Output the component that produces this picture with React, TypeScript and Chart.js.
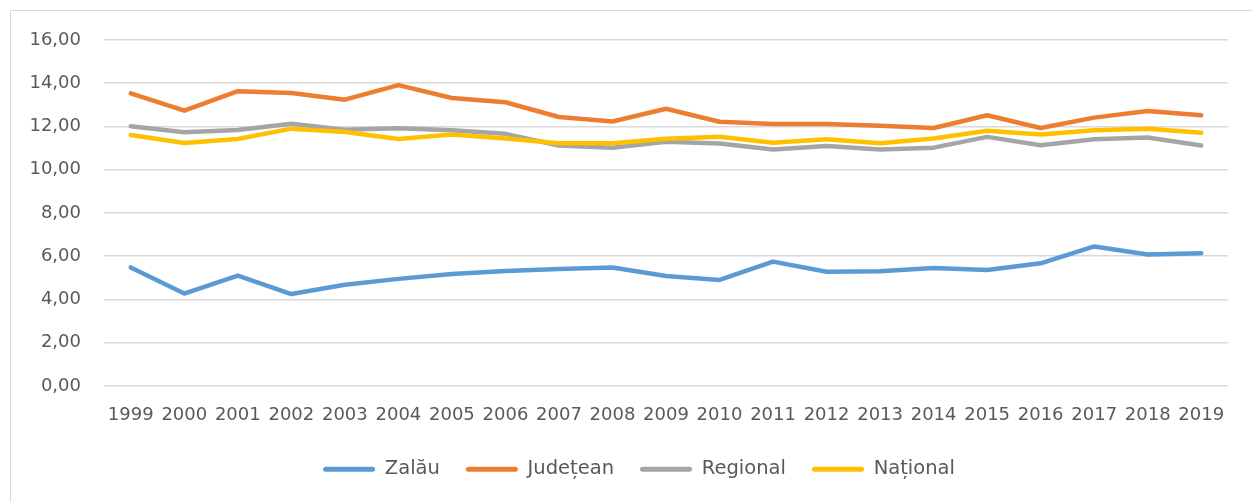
import React, { useEffect, useRef } from "react";
import { Chart, registerables } from "chart.js";

Chart.register(...registerables);

const years = ["1999","2000","2001","2002","2003","2004","2005","2006","2007","2008","2009","2010","2011","2012","2013","2014","2015","2016","2017","2018","2019"];
const zalau = [5.48, 4.27, 5.10, 4.25, 4.68, 4.95, 5.18, 5.32, 5.41, 5.48, 5.08, 4.90, 5.75, 5.28, 5.30, 5.45, 5.36, 5.67, 6.45, 6.08, 6.14];
const judetean = [13.53, 12.73, 13.63, 13.55, 13.24, 13.91, 13.32, 13.12, 12.44, 12.23, 12.82, 12.22, 12.12, 12.12, 12.03, 11.93, 12.52, 11.93, 12.41, 12.72, 12.52];
const regional = [12.01, 11.73, 11.84, 12.13, 11.85, 11.92, 11.82, 11.66, 11.12, 11.02, 11.29, 11.21, 10.93, 11.10, 10.93, 11.02, 11.52, 11.13, 11.41, 11.49, 11.12];
const national = [11.61, 11.24, 11.42, 11.90, 11.74, 11.42, 11.63, 11.44, 11.22, 11.22, 11.43, 11.52, 11.25, 11.41, 11.22, 11.44, 11.80, 11.63, 11.83, 11.90, 11.71];
const seriesNames = ["Zalău", "Județean", "Regional", "Național"];
const seriesColors = ["#5B9BD5", "#ED7D31", "#A5A5A5", "#FFC000"];
const yTickLabels = ["0,00", "2,00", "4,00", "6,00", "8,00", "10,00", "12,00", "14,00", "16,00"];

const FONT = "'DejaVu Sans', sans-serif";
const TEXT = "#595959";

const shiftLegend = {
  id: "shiftLegend",
  afterLayout(c: any) {
    if (c.legend) {
      c.legend.left += 15;
      c.legend.right += 15;
    }
  },
};

export default function App() {
  const ref = useRef<HTMLCanvasElement | null>(null);
  useEffect(() => {
    if (!ref.current) return;
    const values = [zalau, judetean, regional, national];
    const datasets = values
      .map((d, i) => ({
        label: seriesNames[i],
        data: d,
        borderColor: seriesColors[i],
        backgroundColor: seriesColors[i],
        borderWidth: 4.5,
        pointRadius: 0,
        pointHoverRadius: 0,
        tension: 0,
        borderCapStyle: "round" as const,
        borderJoinStyle: "round" as const,
        fill: false,
      }))
      .reverse();
    const chart = new Chart(ref.current, {
      type: "line",
      data: { labels: years, datasets },
      plugins: [shiftLegend],
      options: {
        animation: false,
        responsive: false,
        maintainAspectRatio: false,
        layout: { padding: { left: 20, right: 24, top: 40, bottom: 13 } },
        plugins: {
          tooltip: { enabled: false },
          legend: {
            position: "bottom",
            reverse: true,
            labels: {
              boxWidth: 52,
              boxHeight: 5,
              useBorderRadius: true,
              borderRadius: 2.5,
              padding: 26,
              color: TEXT,
              font: { family: FONT, size: 19.5 },
              generateLabels: (c: any) => {
                const items = Chart.defaults.plugins.legend.labels.generateLabels(c);
                return items.map((it: any) => ({ ...it, lineWidth: 0, fillStyle: it.strokeStyle }));
              },
            },
          },
        },
        scales: {
          x: {
            offset: true,
            afterFit: (s: any) => { s.height = s.height - 12; },
            grid: { display: false, drawTicks: false },
            border: { display: false },
            ticks: { color: TEXT, font: { family: FONT, size: 18 }, padding: 19, maxRotation: 0, autoSkip: false },
          },
          y: {
            min: 0,
            max: 16,
            afterFit: (s: any) => { s.width = 84; },
            grid: { color: "#d9d9d9", lineWidth: 1.5, drawTicks: false },
            border: { display: false },
            ticks: {
              stepSize: 2,
              color: TEXT,
              padding: 23,
              font: { family: FONT, size: 18 },
              callback: (v: any) => yTickLabels[Math.round(Number(v) / 2)],
            },
          },
        },
      },
    });
    return () => chart.destroy();
  }, []);
  return (
    <div style={{ position: "fixed", left: 0, top: 0, width: 1252, height: 502, background: "#fff", overflow: "hidden" }}>
      <div style={{ position: "absolute", left: 10, top: 10, width: 1300, height: 600, border: "1px solid #d9d9d9", boxSizing: "border-box" }} />
      <canvas ref={ref} width={1252} height={502} style={{ position: "absolute", left: 0, top: 0, width: 1252, height: 502 }} />
    </div>
  );
}
